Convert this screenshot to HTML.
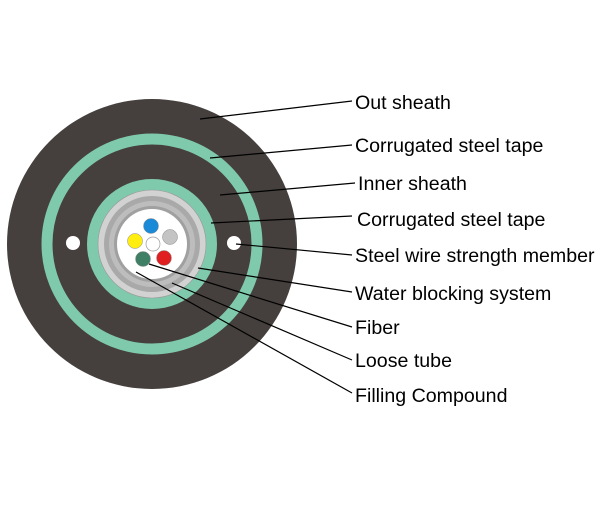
<!DOCTYPE html>
<html><head><style>
body{margin:0;background:#fff;width:600px;height:500px;overflow:hidden}
</style></head><body>
<svg width="600" height="500" xmlns="http://www.w3.org/2000/svg" font-family="Liberation Sans, Arial, sans-serif" font-size="19.6">
<circle cx="152" cy="244" r="145" fill="#45403e"/>
<circle cx="152" cy="244" r="105" fill="none" stroke="#7fc9ac" stroke-width="11"/>
<circle cx="152" cy="244" r="65" fill="#7fc9ac"/>
<circle cx="152" cy="244" r="54" fill="#d2d2d2" stroke="#999" stroke-width="0.6"/>
<circle cx="152" cy="244" r="48" fill="#a9a9a9"/>
<circle cx="152" cy="244" r="43" fill="#bdbdbd"/>
<circle cx="152" cy="244" r="38" fill="#a0a0a0"/>
<circle cx="152" cy="244" r="35" fill="#fff"/>
<circle cx="73" cy="243" r="7" fill="#fff"/>
<circle cx="234" cy="243" r="7" fill="#fff"/>
<circle cx="151" cy="226" r="7.5" fill="#1a8ad8" stroke="#888" stroke-width="0.5"/>
<circle cx="135" cy="241" r="7.5" fill="#ffee10" stroke="#888" stroke-width="0.5"/>
<circle cx="170" cy="237" r="7.5" fill="#c4c4c4" stroke="#888" stroke-width="0.5"/>
<circle cx="153" cy="244" r="7" fill="#fff" stroke="#999" stroke-width="0.7"/>
<circle cx="143" cy="259" r="7.5" fill="#3f7f66" stroke="#888" stroke-width="0.5"/>
<circle cx="164" cy="258" r="7.5" fill="#e02020" stroke="#888" stroke-width="0.5"/>
<g stroke="#000" stroke-width="1.2">
<line x1="200" y1="119" x2="352" y2="101"/>
<line x1="210" y1="158" x2="352" y2="145"/>
<line x1="220" y1="195" x2="355" y2="183"/>
<line x1="211" y1="223" x2="352" y2="216"/>
<line x1="236" y1="244" x2="352" y2="255"/>
<line x1="198" y1="268" x2="352" y2="292"/>
<line x1="149" y1="264" x2="352" y2="327"/>
<line x1="172" y1="283" x2="352" y2="360"/>
<line x1="136" y1="272" x2="352" y2="393"/>
</g>
<g fill="#000">
<text x="355" y="109">Out sheath</text>
<text x="355" y="152">Corrugated steel tape</text>
<text x="358" y="190">Inner sheath</text>
<text x="357" y="226">Corrugated steel tape</text>
<text x="355" y="262">Steel wire strength member</text>
<text x="355" y="300">Water blocking system</text>
<text x="355" y="334">Fiber</text>
<text x="355" y="367">Loose tube</text>
<text x="355" y="402">Filling Compound</text>
</g>
</svg>
</body></html>
